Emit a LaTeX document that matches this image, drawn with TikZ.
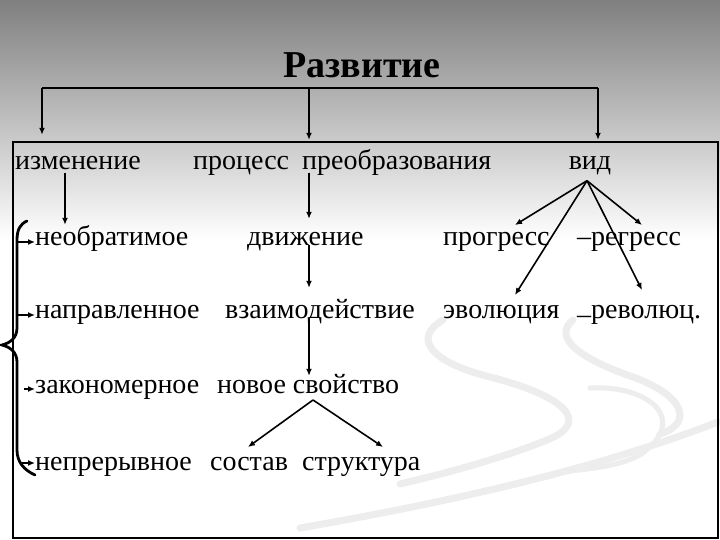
\documentclass[tikz,border=0pt]{standalone}
\usepackage{fontspec}
\setmainfont{Liberation Serif}
\usetikzlibrary{arrows.meta}

\begin{document}
\begin{tikzpicture}[x=1pt,y=-1pt,
  txt/.style={font=\fontsize{28}{30}\selectfont, inner sep=0pt,
    text height=0.7em, text depth=0.25em, anchor=base west},
  arr/.style={-{Latex[length=7pt,width=6pt]}, line width=1.6pt},
  swoosh/.style={line width=7pt, draw=black!7, line cap=round}]
  \useasboundingbox (0,0) rectangle (720,540);
  \shade[top color=black!50, bottom color=white] (0,0) rectangle (720,240);
  \fill[white] (0,240) rectangle (720,540);

  % background swooshes
  \draw[swoosh] (443,320) .. controls (412,338) and (430,362) .. (490,377)
    .. controls (565,396) and (592,422) .. (547,440)
    .. controls (510,455) and (460,470) .. (400,484);
  \draw[swoosh] (573,320) .. controls (555,335) and (570,355) .. (633,377)
    .. controls (690,398) and (690,425) .. (660,434);
  \draw[swoosh] (718,422) .. controls (640,452) and (520,490) .. (300,528);
  \draw[swoosh, line width=5pt] (590,388) .. controls (650,385) and (690,420) .. (640,455)
    .. controls (620,465) and (600,468) .. (560,472);

  \draw[line width=1.5pt] (13,142) rectangle (718,538);

  % title and bracket
  \node[font=\fontsize{38}{40}\selectfont\bfseries, anchor=base] (title) at (362,78) {Развитие};
  \coordinate (brL) at (42,88);
  \coordinate (brM) at (309,88);
  \coordinate (brR) at (598,88);

  % rows
  \node[txt] (izm) at (15,170) {изменение};
  \node[txt] (proc) at (193,170) {процесс};
  \node[txt] (preob) at (302,170) {преобразования};
  \node[txt, anchor=base] (vid) at (590,170) {вид};

  \node[txt] (neobr) at (35,245) {необратимое};
  \node[txt] (dvizh) at (247,245) {движение};
  \node[txt] (progr) at (443,245) {прогресс};
  \node[txt] (regr) at (577,245) {–регресс};

  \node[txt] (napr) at (35,318) {направленное};
  \node[txt] (vzaim) at (225,318) {взаимодействие};
  \node[txt] (evol) at (443,318) {эволюция};
  \node[txt] (rev) at (577,318) {\raisebox{-0.2em}{–}революц.};

  \node[txt] (zakon) at (35,393) {закономерное};
  \node[txt] (novoe) at (217,393) {новое свойство};

  \node[txt] (nepr) at (35,470) {непрерывное};
  \node[txt] (sostav) at (210,470) {состав};
  \node[txt] (strukt) at (302,470) {структура};

  % bracket arrows
  \draw[line width=2.2pt] (brL) -- (brR);
  \draw[arr, shorten >=28pt] (brL) -- (brL |- izm.north);
  \draw[arr, shorten >=23pt] (brM) -- (brM |- preob.north);
  \draw[arr, shorten >=23pt] (brR) -- (brR |- vid.north);

  % middle column
  \draw[arr, shorten >=13pt] ([xshift=50pt]izm.south west) -- ([xshift=50pt]izm.south west |- neobr.north);
  \draw[arr, shorten >=19pt] ([xshift=7pt]preob.south west) -- ([xshift=7pt]preob.south west |- dvizh.north);
  \draw[arr, shorten >=23pt] ([xshift=62pt]dvizh.base west) -- ([xshift=62pt]dvizh.base west |- vzaim.north);
  \draw[arr, shorten >=10pt] ([xshift=84pt]vzaim.base west) -- ([xshift=84pt]vzaim.base west |- novoe.north);
  \draw[arr] ([xshift=96pt,yshift=-7pt]novoe.base west) -- ([xshift=38pt,yshift=23pt]sostav.base west);
  \draw[arr] ([xshift=96pt,yshift=-7pt]novoe.base west) -- ([xshift=81pt,yshift=23pt]strukt.base west);

  % right column
  \draw[arr] ([xshift=-3pt,yshift=-8pt]vid.south) -- ([xshift=72pt,yshift=20pt]progr.base west);
  \draw[arr] ([xshift=-3pt,yshift=-8pt]vid.south) -- ([xshift=65pt,yshift=20pt]regr.base west);
  \draw[arr] ([xshift=-3pt,yshift=-8pt]vid.south) -- ([xshift=72pt,yshift=23pt]evol.base west);
  \draw[arr] ([xshift=-3pt,yshift=-8pt]vid.south) -- ([xshift=65pt,yshift=28pt]rev.base west);

  % brace
  \draw[line width=2.8pt, line cap=round] (27,221) .. controls (20,224) and (17,230) .. (17,240)
    -- (17,328) .. controls (17,338) and (10,343) .. (2,345)
    .. controls (10,347) and (17,352) .. (17,362)
    -- (17,450) .. controls (17,462) and (24,470) .. (35,475);
  \coordinate (b1) at (18,242);
  \coordinate (b2) at (18,315);
  \coordinate (b3) at (24,389);
  \coordinate (b4) at (22,463);
  \draw[arr] (b1) -- (b1 -| neobr.west);
  \draw[arr] (b2) -- (b2 -| napr.west);
  \draw[arr] (b3) -- (b3 -| zakon.west);
  \draw[arr] (b4) -- (b4 -| nepr.west);
\end{tikzpicture}
\end{document}
